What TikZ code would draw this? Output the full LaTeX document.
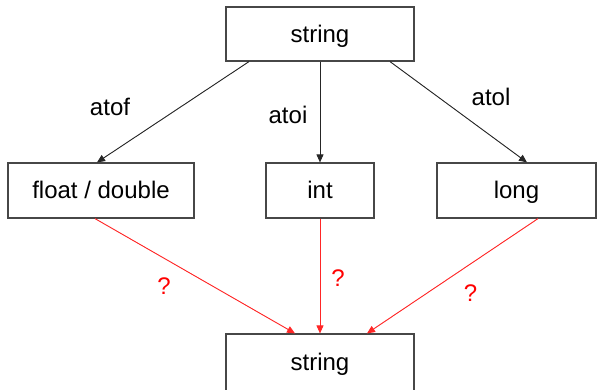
\documentclass[tikz,border=0pt]{standalone}
\usepackage{fontspec}
\setmainfont{Liberation Sans}
\usetikzlibrary{arrows.meta}
\begin{document}
\begin{tikzpicture}[x=1pt,y=-1pt,
  box/.style={draw=black!72, line width=1.2pt, rectangle, inner sep=0pt,
    font=\fontsize{24}{28}\selectfont, text height=18pt, text depth=2pt,
    minimum height=55pt},
  lbl/.style={inner sep=0pt, font=\fontsize{24}{28}\selectfont,
    text height=17pt, text depth=0pt},
  qlbl/.style={lbl, text=red},
  conv/.style={-{Triangle[length=8pt,width=7pt]}, line width=0.9pt, draw=black!85, fill=black!85},
  back/.style={-{Triangle[length=8pt,width=7pt]}, line width=0.9pt, draw=red!85, fill=red!85}
]
\useasboundingbox (0,0) rectangle (597,389);
\clip (0,0) rectangle (597,389);

% conversion targets
\node[box, minimum width=188pt, minimum height=54pt] (src) at (320,34) {string};
\node[box, minimum width=186pt] (flt) at (101,190.5) {float / double};
\node[box, minimum width=108pt] (int) at (320,190.5) {int};
\node[box, minimum width=159pt] (lng) at (516.5,190.5) {long};
\node[box, minimum width=188pt, minimum height=57pt] (dst) at (320,362.5) {string};

% string -> numeric
\draw[conv] ([xshift=-71pt]src.south) -- ([xshift=-4pt]flt.north);
\draw[conv] (src.south) -- (int.north);
\draw[conv] ([xshift=70pt]src.south) -- ([xshift=10.5pt]lng.north);

% numeric -> string
\draw[back] ([xshift=-6pt]flt.south) -- ([xshift=-25pt]dst.north);
\draw[back] (int.south) -- (dst.north);
\draw[back] ([xshift=21.5pt]lng.south) -- ([xshift=47pt]dst.north);

% labels
\node[lbl] (lf) at (110,106.5) {atof};
\node[lbl] (li) at (288,115) {atoi};
\node[lbl] (ll) at (491,97) {atol};
\node[qlbl] (q1) at (164,285.5) {?};
\node[qlbl] (q2) at (338,278) {?};
\node[qlbl] (q3) at (470.5,293) {?};
\end{tikzpicture}
\end{document}
